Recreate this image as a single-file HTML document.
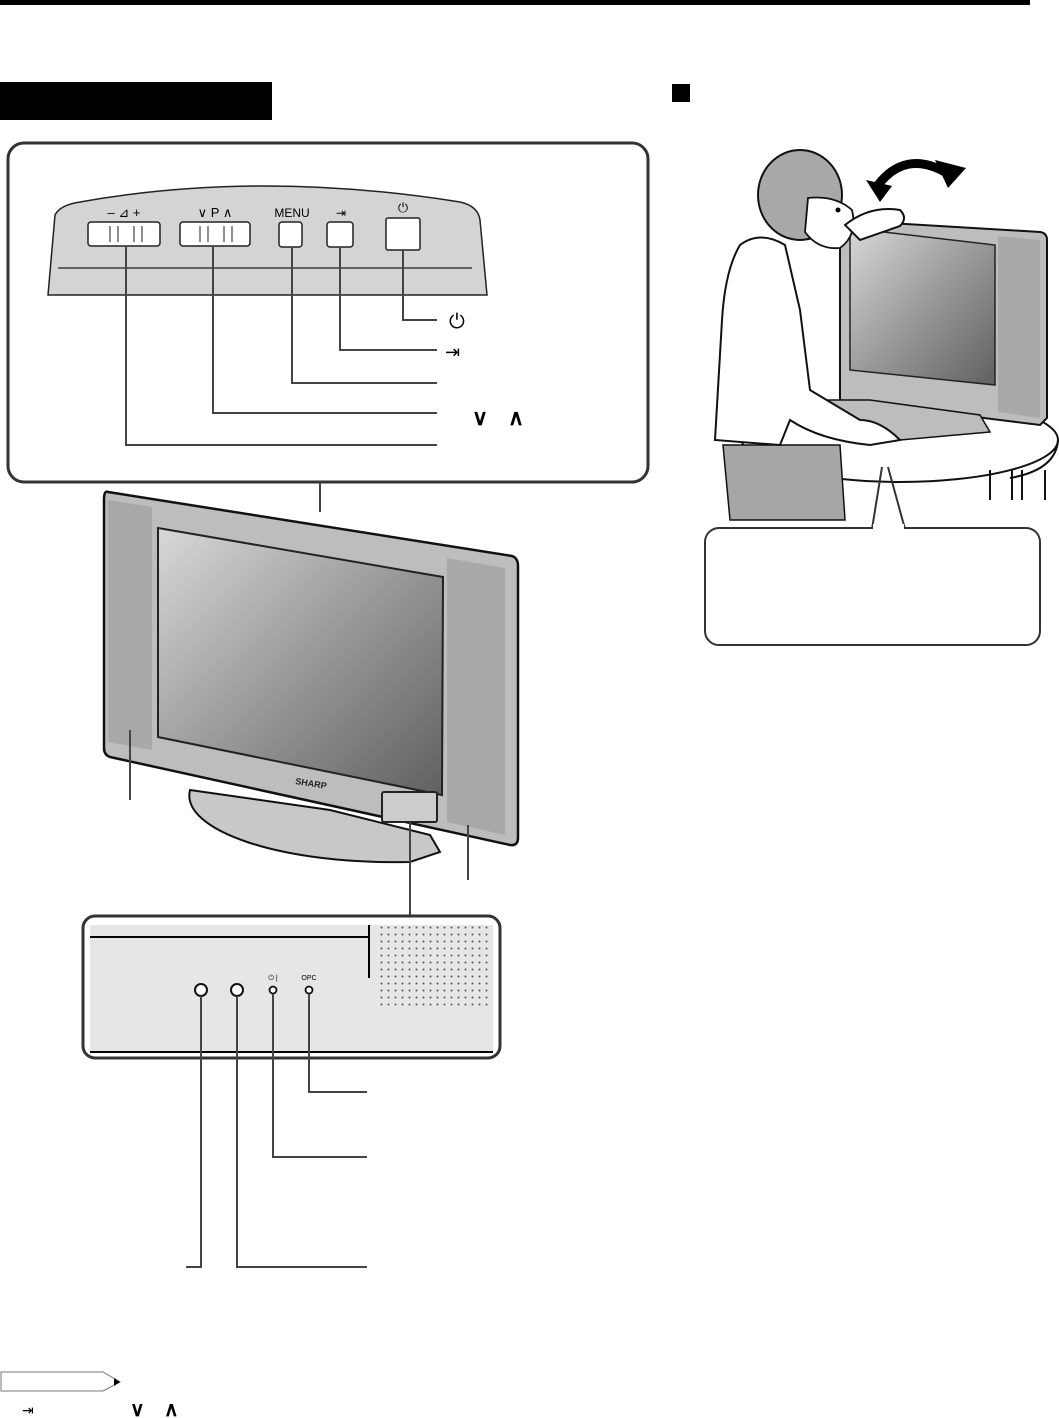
<!DOCTYPE html>
<html><head><meta charset="utf-8"><style>
html,body{margin:0;padding:0;background:#fff;}
svg{display:block;font-family:"Liberation Sans",sans-serif;}
</style></head><body>
<svg width="1059" height="1418" viewBox="0 0 1059 1418" xmlns="http://www.w3.org/2000/svg">
<defs>
<linearGradient id="scr" x1="0" y1="0" x2="1" y2="1">
<stop offset="0" stop-color="#d8d8d8"/><stop offset="0.5" stop-color="#9a9a9a"/><stop offset="1" stop-color="#606060"/></linearGradient>
<pattern id="dots" width="7" height="7" patternUnits="userSpaceOnUse"><circle cx="3.5" cy="3.5" r="1" fill="#555"/></pattern>
</defs>
<rect x="0" y="0" width="1030" height="5" fill="#000"/>
<rect x="0" y="82" width="272" height="38" fill="#000"/>
<rect x="672" y="84" width="18" height="18" fill="#000"/>

<!-- top callout -->
<rect x="8" y="143" width="640" height="339" rx="16" fill="#fff" stroke="#333" stroke-width="3"/>
<path d="M48,295 L55,215 Q60,205 80,202 Q260,170 460,202 Q478,206 480,220 L487,295 Z" fill="#d4d4d4" stroke="#222" stroke-width="1.5"/>
<path d="M58,268 L472,268" stroke="#222" stroke-width="1.2"/>
<rect x="88" y="222" width="72" height="24" rx="3" fill="#fff" stroke="#222" stroke-width="1.5"/>
<path d="M110,226V242M118,226V242M134,226V242M142,226V242" stroke="#222"/>
<rect x="180" y="222" width="70" height="24" rx="3" fill="#fff" stroke="#222" stroke-width="1.5"/>
<path d="M200,226V242M208,226V242M224,226V242M232,226V242" stroke="#222"/>
<rect x="279" y="222" width="23" height="25" rx="3" fill="#fff" stroke="#222" stroke-width="1.5"/>
<rect x="327" y="222" width="26" height="25" rx="3" fill="#fff" stroke="#222" stroke-width="1.5"/>
<rect x="386" y="218" width="34" height="32" rx="2" fill="#fff" stroke="#222" stroke-width="1.5"/>
<text x="124" y="217" font-size="13" text-anchor="middle">–  ⊿  +</text>
<text x="215" y="217" font-size="13" text-anchor="middle">∨  P  ∧</text>
<text x="292" y="217" font-size="12" text-anchor="middle">MENU</text>
<text x="341" y="217" font-size="12" text-anchor="middle">⇥</text>
<text x="403" y="212" font-size="13" text-anchor="middle">⏻</text>
<g stroke="#444" stroke-width="2" fill="none">
<path d="M403,250V320H437"/><path d="M340,247V350H437"/><path d="M292,247V383H437"/><path d="M213,246V413H437"/><path d="M126,246V445H437"/>
<path d="M320,482V512"/>
</g>
<text x="449" y="328" font-size="20">⏻</text>
<text x="445" y="358" font-size="18">⇥</text>
<text x="472" y="425" font-size="22" font-weight="bold">∨</text>
<text x="508" y="425" font-size="22" font-weight="bold">∧</text>

<!-- TV -->
<path d="M190,790 C180,830 280,865 410,862 L440,852 L430,835 L330,810 Z" fill="#c8c8c8" stroke="#111" stroke-width="2"/>
<path d="M108,492 L512,556 Q518,558 518,566 L518,838 Q518,846 510,845 L110,757 Q104,755 104,748 L104,500 Q104,490 108,492 Z" fill="#bdbdbd" stroke="#111" stroke-width="2.5"/>
<path d="M108,500 L152,507 L152,750 L108,742 Z" fill="#a9a9a9"/>
<path d="M447,558 L505,568 L505,835 L447,822 Z" fill="#a9a9a9"/>
<path d="M158,528 L443,577 L442,795 L158,737 Z" fill="url(#scr)" stroke="#222" stroke-width="2"/>
<text x="295" y="784" font-size="9" font-weight="bold" fill="#222" transform="rotate(9 295 784)">SHARP</text>
<rect x="382" y="792" width="55" height="30" rx="2" fill="#ccc" stroke="#222" stroke-width="2"/>
<g stroke="#444" stroke-width="2" fill="none">
<path d="M130,730V800"/><path d="M468,825V880"/><path d="M410,822V917"/>
</g>

<!-- bottom panel -->
<rect x="83" y="916" width="417" height="142" rx="12" fill="#fff" stroke="#333" stroke-width="3"/>
<rect x="90" y="925" width="403" height="127" fill="#e6e6e6"/>
<path d="M90,937H370M90,1052H493" stroke="#000" stroke-width="2"/>
<path d="M369,925V978" stroke="#000" stroke-width="2"/>
<rect x="380" y="925" width="110" height="85" fill="url(#dots)"/>
<circle cx="201" cy="990" r="6" fill="#fff" stroke="#111" stroke-width="2"/>
<circle cx="237" cy="990" r="6" fill="#fff" stroke="#111" stroke-width="2"/>
<circle cx="273" cy="990" r="3.5" fill="#fff" stroke="#111" stroke-width="1.8"/>
<circle cx="309" cy="990" r="3.5" fill="#fff" stroke="#111" stroke-width="1.8"/>
<text x="273" y="980" font-size="7" text-anchor="middle">⏻ |</text>
<text x="309" y="980" font-size="7" text-anchor="middle">OPC</text>
<g stroke="#444" stroke-width="2" fill="none">
<path d="M309,994V1092H367"/><path d="M273,994V1157H367"/><path d="M237,996V1267H367"/><path d="M201,996V1267H186"/>
</g>

<!-- note -->
<path d="M1,1372H103L120,1382L103,1391H1Z" fill="#fff" stroke="#777" stroke-width="1"/>
<path d="M114,1378L120,1382L114,1386Z" fill="#000"/>
<text x="22" y="1415" font-size="14">⇥</text>
<text x="130" y="1416" font-size="20" font-weight="bold">∨</text>
<text x="164" y="1416" font-size="20" font-weight="bold">∧</text>

<!-- right illustration -->
<ellipse cx="900" cy="440" rx="158" ry="42" fill="#fff" stroke="#111" stroke-width="2"/>
<path d="M742,440 Q745,470 790,478 M1058,440 Q1056,470 1010,478" stroke="#111" stroke-width="2" fill="none"/>
<path d="M990,470V500M1012,470V500M1022,470V500M1045,470V500" stroke="#111" stroke-width="2"/>
<path d="M840,220 L1040,232 Q1047,233 1047,240 L1047,418 L1040,425 L840,400 Z" fill="#bdbdbd" stroke="#111" stroke-width="2"/>
<path d="M998,236 L1040,240 L1040,418 L998,412 Z" fill="#a9a9a9"/>
<path d="M850,228 L995,245 L995,385 L850,370 Z" fill="url(#scr)" stroke="#222" stroke-width="1.5"/>
<path d="M825,400 Q850,430 900,440 L990,432 L980,415 L870,400 Z" fill="#bdbdbd" stroke="#111" stroke-width="1.5"/>
<path d="M723,445 L730,520 L845,520 L840,445 Z" fill="#a6a6a6" stroke="#111" stroke-width="1.5"/>
<path d="M740,245 Q725,270 722,320 L715,440 L780,445 L790,420 Q820,440 870,445 L900,440 Q880,420 860,420 L810,390 L800,310 L785,245 Q760,230 740,245 Z" fill="#fff" stroke="#111" stroke-width="2"/>
<ellipse cx="800" cy="195" rx="42" ry="45" fill="#a8a8a8" stroke="#111" stroke-width="2"/>
<path d="M808,198 Q835,195 852,210 Q858,235 840,248 Q818,250 805,232 Z" fill="#fff" stroke="#111" stroke-width="1.8"/>
<path d="M845,225 Q870,205 900,210 Q908,218 900,226 L860,240 Z" fill="#fff" stroke="#111" stroke-width="2"/>
<circle cx="838" cy="210" r="2.5" fill="#000"/>
<path d="M878,185 Q905,150 945,172" stroke="#000" stroke-width="9" fill="none"/>
<path d="M866,180 L892,186 L880,202 Z" fill="#000"/>
<path d="M935,160 L966,168 L948,188 Z" fill="#000"/>
<rect x="705" y="528" width="335" height="117" rx="14" fill="#fff" stroke="#333" stroke-width="2"/>
<path d="M872,529 L882,467 M905,529 L888,467" stroke="#333" stroke-width="2" fill="none"/>
<rect x="873" y="524" width="31" height="6" fill="#fff"/>
</svg>
</body></html>
